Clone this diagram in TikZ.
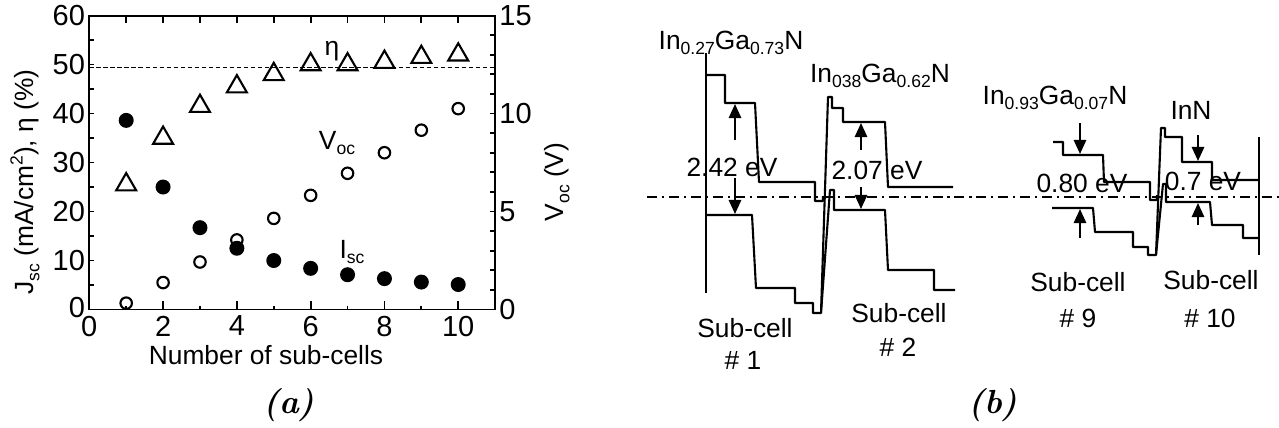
\documentclass[tikz,border=0pt]{standalone}
\usepackage{fontspec}
\newfontfamily\arial{Liberation Sans}
\usetikzlibrary{arrows.meta,shapes.geometric}
\newcommand\lsub[1]{\raisebox{-0.4ex}{\fontsize{10}{10}\selectfont #1}}
\newcommand\lsup[1]{\raisebox{0.8ex}{\fontsize{10}{10}\selectfont #1}}
\tikzset{
  axisline/.style={line width=1.1pt},
  tickline/.style={line width=1pt},
  band/.style={line width=1.2pt, line join=round},
  arr/.style={line width=1.2pt, -{Triangle[length=8pt,width=7pt]}},
  tri/.style={regular polygon, regular polygon sides=3, draw, line width=1.2pt, inner sep=0pt, minimum size=0.46cm},
  fdot/.style={circle, fill=black, inner sep=0pt, minimum size=0.3cm},
  odot/.style={circle, draw, line width=1.2pt, inner sep=0pt, minimum size=0.23cm},
  lbl/.style={inner sep=0pt},
  ticklbl/.style={inner sep=0pt, font=\arial\fontsize{16.5}{18}\selectfont},
  capt/.style={font=\rmfamily\bfseries\itshape\fontsize{19}{22}\selectfont},
}
\begin{document}
\begin{tikzpicture}[x=0.02cm,y=-0.02cm, font=\arial\fontsize{15}{18}\selectfont]
\useasboundingbox (0,0) rectangle (1279,427);
% ---------------- panel (a) ----------------
\begin{scope}[shift={(89.3,309.5)}, x=0.738cm, y=0.098cm]
  \draw[dash pattern=on 2.5pt off 1.5pt, line width=0.5pt] (0,49.5) -- (11,49.5);
  \draw[axisline] (0,0) rectangle (11,60);
  \foreach \v in {5,10,...,55} \draw[tickline] (0,\v) -- ++(0.1cm,0);
  \foreach \v in {1,...,14} \draw[tickline] (11,\v*4) -- ++(-0.1cm,0);
  \foreach \v in {2,4,...,10} \draw[tickline] (\v,0) -- ++(0,0.18cm);
  \foreach \v in {1,3,...,9} \draw[tickline] (\v,0) -- ++(0,0.08cm);
  \foreach \v in {1,...,10} \draw[tickline] (\v,60) -- ++(0,-0.14cm);
  \foreach \v in {10,20,...,60} \node[ticklbl, anchor=east, xshift=-0.08cm] (yl\v) at (0,\v) {\v};
  \node[ticklbl, anchor=east, xshift=-0.08cm, yshift=0.04cm] (yl0) at (0,0) {0};
  \foreach \v/\w in {0/0,5/20,10/40,15/60} \node[ticklbl, anchor=west, xshift=0.08cm] (yr\v) at (11,\w) {\v};
  \foreach \v in {0,2,...,10} \node[ticklbl, anchor=north, yshift=-0.12cm] (xl\v) at (\v,0) {\v};
  % eta
  \foreach \x/\y [count=\i] in {1/25.5,2/35,3/41.5,4/45.5,5/48,6/50,7/50,8/50.5,9/51.5,10/52}
    \node[tri] (t\i) at (\x,\y) {};
  % Voc
  \foreach \x/\y [count=\i] in {1/1.3,2/5.5,3/9.7,4/14.2,5/18.6,6/23.3,7/27.8,8/32,9/36.6,10/41}
    \node[odot] (o\i) at (\x,\y) {};
  % Isc
  \foreach \x/\y [count=\i] in {1/38.6,2/25,3/16.7,4/12.5,5/10,6/8.4,7/7.1,8/6.3,9/5.6,10/5.1}
    \node[fdot] (f\i) at (\x,\y) {};
\end{scope}
\node[lbl] (eta) at (332,51) {η};
\node[lbl] (vocl) at (337,143) {V\lsub{oc}};
\node[lbl] (iscl) at (352,252) {I\lsub{sc}};
\node[lbl] (xlab) at (266,355) {Number of sub-cells};
\node[lbl, rotate=90] (ylab) at (25,182) {J\lsub{sc} (mA/cm\lsup{2}), η (\%)};
\node[lbl, rotate=90] (y2lab) at (557,182) {V\lsub{oc} (V)};
\node[capt] (capa) at (289,405) {(a)};
% ---------------- panel (b) ----------------
\draw[line width=1.1pt, dash pattern=on 5.7pt off 2.8pt on 1.2pt off 2.8pt] (647,197) -- (1279,197);
\draw[band] (706,53) -- (706,293);
\draw[band] (1259,137) -- (1259,255);
% sub-cell 1 & 2
\draw[band] (706,75) -- (725,75) -- (725,103) -- (755,103) -- (759,182) -- (815,182) -- (815,201) -- (823,201) -- (823,196);
\draw[band] (706,215) -- (752,215) -- (756,288) -- (795,288) -- (795,303) -- (813,303) -- (813,313) -- (821,313)
  -- (828,97) -- (832,97) -- (832,108) -- (843,108) -- (843,122) -- (885,122) -- (888,187) -- (953,187);
\draw[band] (821,313) -- (830,190) -- (834,190) -- (834,210) -- (885,210) -- (888,270) -- (934,270) -- (934,290) -- (955,290);
% sub-cell 9 & 10
\draw[band] (1053,142) -- (1063,142) -- (1063,155) -- (1103,155) -- (1104,182) -- (1150,182) -- (1150,200) -- (1157,200) -- (1157,195);
\draw[band] (1052,208) -- (1093,208) -- (1095,232) -- (1133,232) -- (1133,247) -- (1148,247) -- (1148,255) -- (1156,255)
  -- (1161,128) -- (1165,128) -- (1165,137) -- (1182,137) -- (1182,162) -- (1212,162) -- (1212,180) -- (1259,180);
\draw[band] (1156,255) -- (1163,184) -- (1166,184) -- (1166,202) -- (1210,202) -- (1212,225) -- (1243,225) -- (1243,238) -- (1259,238);
% arrows
\coordinate (a1s) at (735,140); \coordinate (a1e) at (735,104);
\coordinate (a2s) at (735,178); \coordinate (a2e) at (735,214);
\coordinate (b1s) at (861,150); \coordinate (b1e) at (861,123);
\coordinate (b2s) at (861,187); \coordinate (b2e) at (861,209);
\coordinate (c1s) at (1080,123); \coordinate (c1e) at (1080,154);
\coordinate (c2s) at (1080,238); \coordinate (c2e) at (1080,209);
\coordinate (d1s) at (1198,135); \coordinate (d1e) at (1198,161);
\coordinate (d2s) at (1198,225); \coordinate (d2e) at (1198,203);
\foreach \p in {a1,a2,b1,b2,c1,c2,d1,d2} \draw[arr] (\p s) -- (\p e);
% labels
\node[lbl] (m1) at (731,43) {In\lsub{0.27}Ga\lsub{0.73}N};
\node[lbl] (m2) at (880,76) {In\lsub{038}Ga\lsub{0.62}N};
\node[lbl] (m9) at (1055,98) {In\lsub{0.93}Ga\lsub{0.07}N};
\node[lbl] (m10) at (1191,110) {InN};
\node[lbl] (e1) at (732,167) {2.42 eV};
\node[lbl] (e2) at (877,170) {2.07 eV};
\node[lbl] (e9) at (1082,183) {0.80 eV};
\node[lbl] (e10) at (1203,181) {0.7 eV};
\node[lbl] (s1) at (745,328) {Sub-cell};
\node[lbl] (n1) at (743,360) {\# 1};
\node[lbl] (s2) at (899,313) {Sub-cell};
\node[lbl] (n2) at (898,347) {\# 2};
\node[lbl] (s9) at (1078,282) {Sub-cell};
\node[lbl] (n9) at (1078,318) {\# 9};
\node[lbl] (s10) at (1211,280) {Sub-cell};
\node[lbl] (n10) at (1210,318) {\# 10};
\node[capt] (capb) at (993,405) {(b)};
\end{tikzpicture}
\end{document}
